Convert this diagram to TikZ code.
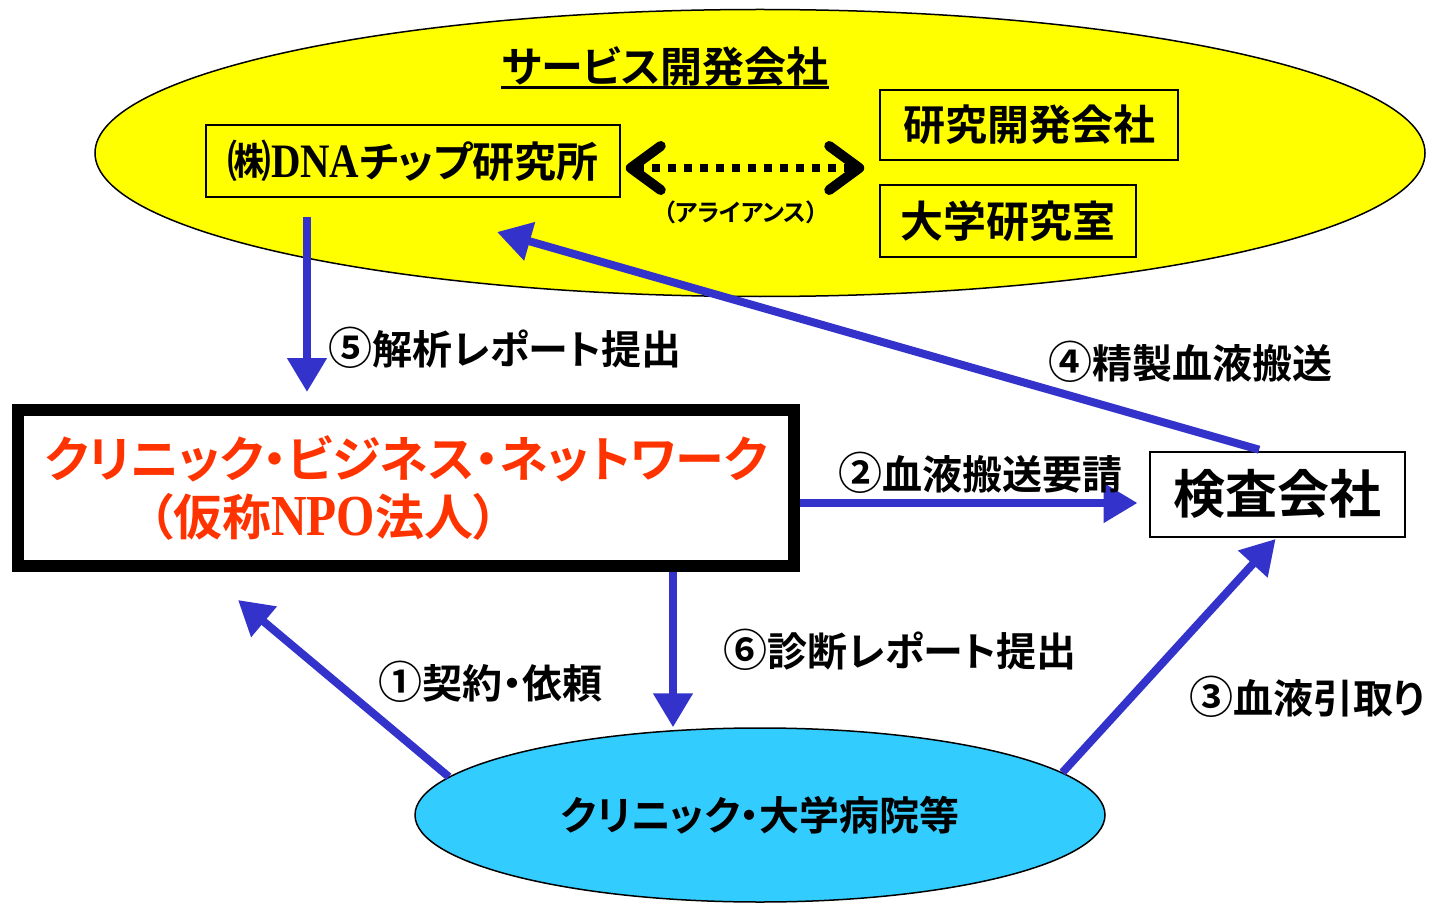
\documentclass[tikz,border=0pt]{standalone}
\usepackage{fontspec}
\usetikzlibrary{shapes.geometric,arrows.meta,calc}
\newfontfamily\jp{Noto Sans CJK JP Bold}[RawFeature=+palt]
\newfontfamily\jpf{Noto Sans CJK JP Bold}
\newfontfamily\lser{Liberation Serif}[FakeStretch=0.85]
\newcommand\circnum[1]{{\jpf\fontsize{44}{48}\selectfont #1}}
\definecolor{arrblue}{RGB}{51,51,204}
\definecolor{yel}{RGB}{255,255,0}
\definecolor{cyanfill}{RGB}{51,204,255}
\definecolor{redtext}{RGB}{255,51,0}
\begin{document}
\begin{tikzpicture}[x=1pt,y=-1pt,
  arr/.style={line width=8pt, draw=arrblue, -{Triangle[length=34pt,width=38pt]}},
  lbl/.style={inner sep=0pt, font=\jp\fontsize{40}{48}\selectfont},
  ybox/.style={draw, line width=1.5pt, fill=yel, inner sep=0pt}]
\useasboundingbox (0,0) rectangle (1430,904);
\fill[white] (0,0) rectangle (1430,904);

% service ellipse
\node[ellipse, draw, line width=1.5pt, fill=yel, minimum width=1330pt, minimum height=287pt, inner sep=0pt] (svc) at (760,153) {};
\node[anchor=base, inner sep=0pt, font=\jp\fontsize{42}{50}\selectfont] (title) at (665,83) {サービス開発会社};
\draw[line width=3pt] ($(title.base west)+(0,5)$) -- ($(title.base east)+(0,5)$);

\node[ybox, minimum width=414pt, minimum height=72pt, font=\jp\fontsize{42}{50}\selectfont] (dna) at (413,161) {{\jpf\fontsize{44}{50}\selectfont ㈱}{\lser\bfseries\fontsize{48}{50}\selectfont DNA}チップ研究所};
\node[ybox, minimum width=298pt, minimum height=70pt, font=\jp\fontsize{42}{50}\selectfont] (rd) at (1029,125) {研究開発会社};
\node[ybox, minimum width=256pt, minimum height=72pt, font=\jp\fontsize{43}{50}\selectfont] (univ) at (1008,221) {大学研究室};

\coordinate (ya) at (0,168);
\draw[line width=8pt, dash pattern=on 8pt off 8pt,
  {Straight Barb[length=30pt,width=44pt,line width=10pt,round]}-{Straight Barb[length=30pt,width=44pt,line width=10pt,round]},
  shorten <=5pt, shorten >=15pt] (dna.east |- ya) -- (rd.west |- ya);
\node[inner sep=0pt, font=\jp\fontsize{24}{28}\selectfont] (alli) at (741,212) {（アライアンス）};

% main box
\node[draw, line width=12pt, fill=white, minimum width=776pt, minimum height=156pt, inner sep=0pt,
  align=left, text=redtext, font=\jp\fontsize{49}{58}\selectfont] (big) at (406,488)
  {クリニック・ビジネス・ネットワーク\\\hspace*{104pt}（仮称{\lser\bfseries\fontsize{58}{58}\selectfont NPO}法人）};

\node[draw, line width=2pt, fill=white, minimum width=255pt, minimum height=85pt, inner sep=0pt,
  font=\jp\fontsize{52}{60}\selectfont] (kensa) at (1277,494) {検査会社};

\node[ellipse, draw, line width=1.5pt, fill=cyanfill, minimum width=690pt, minimum height=174pt, inner sep=0pt,
  font=\jp\fontsize{40}{48}\selectfont] (clinic) at (760,815) {クリニック・大学病院等};

% arrows
\coordinate (x5) at (307,0);
\draw[arr, shorten <=19pt, shorten >=12pt] (dna.south -| x5) -- (big.north -| x5);
\coordinate (x4) at (1262,0);
\coordinate (tip4) at (497,232);
\draw[arr, shorten <=3pt] (kensa.north -| x4) -- (tip4);
\coordinate (y2) at (0,503);
\draw[arr, shorten >=11pt] (big.east |- y2) -- (kensa.west |- y2);
\coordinate (x6) at (673,0);
\draw[arr] (big.south -| x6) -- (clinic.north -| x6);
\coordinate (tip1) at (238,600);
\draw[arr] (clinic.173) -- (tip1);
\draw[arr, shorten >=2pt] (clinic.8) -- (kensa.south);

% labels
\node[lbl] (l5) at (505,348) {\circnum{⑤}解析レポート提出};
\node[lbl] (l4) at (1190,362) {\circnum{④}精製血液搬送};
\node[lbl] (l2) at (980,473) {\circnum{②}血液搬送要請};
\node[lbl] (l6) at (900,650) {\circnum{⑥}診断レポート提出};
\node[lbl] (l1) at (490,682) {\circnum{①}契約・依頼};
\node[lbl] (l3) at (1307,697) {\circnum{③}血液引取り};
\end{tikzpicture}
\end{document}
